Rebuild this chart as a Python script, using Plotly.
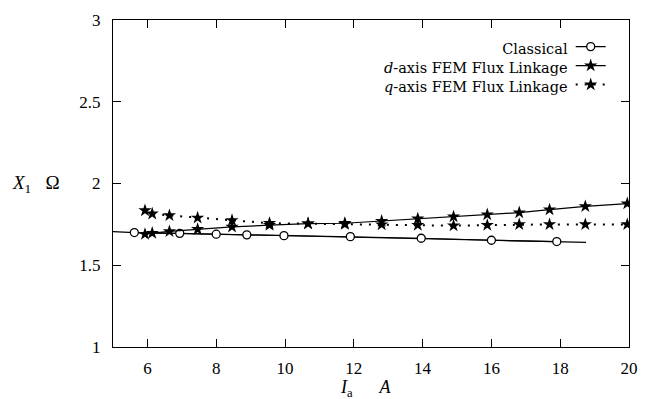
import plotly.graph_objects as go

# Classical (line extends beyond marked points)
classical_line_x = [5.0, 5.62, 6.94, 8.0, 8.89, 9.97, 11.9, 13.96, 16.0, 17.9, 18.75]
classical_line_y = [1.706, 1.700, 1.695, 1.690, 1.686, 1.681, 1.675, 1.665, 1.653, 1.645, 1.640]
classical_pts_x = [5.62, 6.94, 8.0, 8.89, 9.97, 11.9, 13.96, 16.0, 17.9]
classical_pts_y = [1.700, 1.695, 1.690, 1.686, 1.681, 1.675, 1.665, 1.653, 1.645]

# FEM flux-linkage series
fem_x = [5.93, 6.14, 6.64, 7.46, 8.46, 9.55, 10.67, 11.74, 12.81, 13.86, 14.9, 15.88, 16.81, 17.69, 18.73, 19.95]
d_axis_y = [1.690, 1.697, 1.707, 1.720, 1.735, 1.745, 1.755, 1.757, 1.770, 1.785, 1.797, 1.810, 1.822, 1.840, 1.860, 1.877]
q_axis_y = [1.835, 1.815, 1.805, 1.790, 1.775, 1.757, 1.755, 1.751, 1.749, 1.745, 1.742, 1.745, 1.750, 1.750, 1.750, 1.750]

legend_labels = ["Classical", "<i>d</i>-axis FEM Flux Linkage", "<i>q</i>-axis FEM Flux Linkage"]
x_ticks = [6, 8, 10, 12, 14, 16, 18, 20]
y_ticks = [1, 1.5, 2, 2.5, 3]
y_tick_text = ["1", "1.5", "2", "2.5", "3"]

FONT = "Liberation Serif, DejaVu Serif, serif"
LEG_FONT = "DejaVu Serif, Liberation Serif, serif"

fig = go.Figure()
fig.add_trace(go.Scatter(x=classical_line_x, y=classical_line_y, mode="lines",
                         line=dict(color="black", width=1.2), showlegend=False, hoverinfo="skip"))
fig.add_trace(go.Scatter(x=classical_pts_x, y=classical_pts_y, mode="lines+markers", name=" ",
                         line=dict(color="black", width=1.2),
                         marker=dict(symbol="circle", size=8, color="white",
                                     line=dict(color="black", width=1.3))))
fig.add_trace(go.Scatter(x=fem_x, y=d_axis_y, mode="lines+markers", name=" ",
                         line=dict(color="black", width=1.2),
                         marker=dict(symbol="star", size=10, color="black", line=dict(width=0))))
fig.add_trace(go.Scatter(x=fem_x, y=q_axis_y, mode="lines+markers", name=" ",
                         line=dict(color="black", width=2, dash="2px,7px"),
                         marker=dict(symbol="star", size=10, color="black", line=dict(width=0))))

axis_common = dict(showline=True, linecolor="black", linewidth=1, mirror="ticks",
                   ticks="inside", ticklen=8, tickcolor="black", tickwidth=1,
                   showgrid=False, zeroline=False,
                   tickfont=dict(family=FONT, size=17, color="black"))

fig.update_xaxes(range=[5, 20], tickvals=x_ticks, ticklabelstandoff=6, **axis_common)
fig.update_yaxes(range=[1, 3], tickvals=y_ticks, ticktext=y_tick_text, ticklabelstandoff=8, **axis_common)

annotations = [
    dict(xref="paper", yref="y", x=-0.2, y=2, xanchor="left", yanchor="middle",
         text="<i>X</i><sub>1</sub>   Ω", showarrow=False,
         font=dict(family=FONT, size=19, color="black")),
    dict(xref="paper", yref="paper", x=0.49, y=-0.127, xanchor="center", yanchor="middle",
         text="<i>I</i><sub>a</sub>      <i>A</i>", showarrow=False,
         font=dict(family=FONT, size=18, color="black")),
    dict(xref="paper", yref="paper", x=0.886, y=0.852, xanchor="right", yanchor="middle",
         align="right", text="<br>".join(legend_labels), showarrow=False,
         font=dict(family=LEG_FONT, size=14.5, color="black")),
]

fig.update_layout(
    width=649, height=399,
    margin=dict(l=113, r=11, t=15, b=52),
    paper_bgcolor="white", plot_bgcolor="white",
    font=dict(family=FONT, color="black"),
    annotations=annotations,
    legend=dict(x=0.887, y=0.963, xanchor="left", yanchor="top",
                bgcolor="rgba(0,0,0,0)", font=dict(size=8, family=FONT),
                tracegroupgap=0, itemwidth=30),
    showlegend=True,
)

fig.write_html("out.html")
